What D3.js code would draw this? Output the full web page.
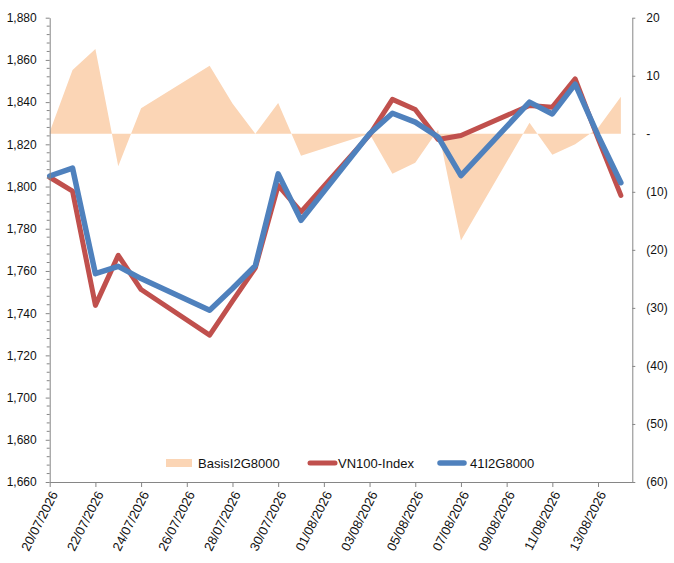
<!DOCTYPE html>
<html>
<head>
<meta charset="utf-8">
<script src="https://cdn.jsdelivr.net/npm/d3@7"></script>
<style>
  html, body { margin: 0; padding: 0; background: #fff; }
  svg { display: block; font-family: "Liberation Sans", Arial, sans-serif; }
</style>
</head>
<body>
<svg id="chart" width="674" height="563"></svg>
<script>
// ---- data ----
const dates = ["20/07/2026","21/07/2026","22/07/2026","23/07/2026","24/07/2026",
               "27/07/2026","28/07/2026","29/07/2026","30/07/2026","31/07/2026",
               "03/08/2026","04/08/2026","05/08/2026","06/08/2026","07/08/2026",
               "10/08/2026","11/08/2026","12/08/2026","13/08/2026","14/08/2026"];
const vn100 = [1804.4, 1797.8, 1743.7, 1767.4, 1751.2, 1729.6, 1745.7, 1761.5, 1800.5, 1788.0,
               1824.5, 1841.3, 1836.5, 1822.3, 1824.2, 1838.4, 1837.6, 1851.0, 1822.8, 1795.8];
const fut41 = [1805.0, 1808.7, 1758.7, 1762.2, 1756.4, 1741.4, 1751.7, 1762.5, 1806.0, 1784.0,
               1825.0, 1834.7, 1830.5, 1823.5, 1805.2, 1840.0, 1834.4, 1848.5, 1824.2, 1801.8];
const basis = [0.3, 11.0, 14.6, -5.6, 4.4, 11.7, 5.2, 0.0, 5.3, -3.8,
               0.0, -6.9, -5.0, 0.7, -18.4, 1.9, -3.6, -1.8, 1.0, 6.4];
const xTickLabels = ["20/07/2026","22/07/2026","24/07/2026","26/07/2026","28/07/2026","30/07/2026",
                     "01/08/2026","03/08/2026","05/08/2026","07/08/2026","09/08/2026","11/08/2026","13/08/2026"];
const leftTicks = [1660,1680,1700,1720,1740,1760,1780,1800,1820,1840,1860,1880];
const rightTicks = [-60,-50,-40,-30,-20,-10,0,10,20];
const seriesNames = ["BasisI2G8000","VN100-Index","41I2G8000"];
const colors = {basis: "#FBD5B5", vn: "#C0504D", fut: "#4F81BD"};

// ---- layout ----
const parse = d3.timeParse("%d/%m/%Y");
const plotL = 49.7, plotR = 632.3, plotT = 17.7, plotB = 482;
const svg = d3.select("#chart");
const axisColor = "#868686";
const textColor = "#111";
const fontFam = "'Liberation Sans', Arial, sans-serif";

const x = d3.scaleTime()
  .domain([parse("20/07/2026"), d3.timeHour.offset(parse("14/08/2026"), 12)])
  .range([plotL, plotR]);
const yL = d3.scaleLinear().domain([1660, 1880]).range([plotB, plotT]);
const yR = d3.scaleLinear().domain([-60, 20]).range([plotB, plotT]);

const rows = dates.map((d, i) => ({date: parse(d), vn: vn100[i], fut: fut41[i], basis: basis[i]}));

// area (basis) on right axis
svg.append("path")
  .datum(rows)
  .attr("fill", colors.basis)
  .attr("d", d3.area().x(d => x(d.date)).y0(yR(0)).y1(d => yR(d.basis)));

// lines
const lineVN = d3.line().x(d => x(d.date)).y(d => yL(d.vn));
const lineF = d3.line().x(d => x(d.date)).y(d => yL(d.fut));
svg.append("path").datum(rows).attr("fill", "none").attr("stroke", colors.vn)
  .attr("stroke-width", 5).attr("stroke-linejoin", "round").attr("stroke-linecap", "round")
  .attr("d", lineVN);
svg.append("path").datum(rows).attr("fill", "none").attr("stroke", colors.fut)
  .attr("stroke-width", 5.5).attr("stroke-linejoin", "round").attr("stroke-linecap", "round")
  .attr("d", lineF);

// left axis
const gL = svg.append("g").attr("transform", `translate(${plotL},0)`);
const minorTicks = d3.range(1660, 1880.1, 4).filter(v => !leftTicks.includes(v));
gL.selectAll("line.minor").data(minorTicks).join("line").attr("class", "minor")
  .attr("x1", -3).attr("x2", 0).attr("y1", d => yL(d)).attr("y2", d => yL(d))
  .attr("stroke", axisColor).attr("stroke-width", 1);
gL.call(d3.axisLeft(yL).tickValues(leftTicks).tickFormat(d3.format(",")).tickSize(4).tickPadding(9).tickSizeOuter(0));
gL.select(".domain").attr("stroke", axisColor);
gL.selectAll(".tick line").attr("stroke", axisColor);
gL.selectAll(".tick text").attr("fill", textColor).style("font-size", "12px").style("font-family", fontFam);

// right axis
const fmtR = v => v === 0 ? "-" : (v < 0 ? `(${Math.abs(v)})` : `${v}`);
const gR = svg.append("g").attr("transform", `translate(${plotR},0)`);
gR.call(d3.axisRight(yR).tickValues(rightTicks).tickFormat(fmtR).tickSize(3).tickPadding(11).tickSizeOuter(0));
gR.select(".domain").attr("stroke", axisColor);
gR.selectAll(".tick line").attr("stroke", axisColor);
gR.selectAll(".tick text").attr("fill", textColor).style("font-size", "12px").style("font-family", fontFam);

// bottom axis
const gB = svg.append("g").attr("transform", `translate(0,${plotB})`);
gB.call(d3.axisBottom(x).tickValues(xTickLabels.map(parse)).tickFormat(d3.timeFormat("%d/%m/%Y"))
  .tickSize(5).tickSizeOuter(0));
gB.select(".domain").attr("stroke", axisColor);
gB.selectAll(".tick line").attr("stroke", axisColor);
gB.selectAll(".tick text")
  .attr("fill", textColor).style("font-size", "13px").style("font-family", fontFam)
  .attr("text-anchor", "end")
  .attr("x", 0).attr("y", 0).attr("dy", "0.35em")
  .attr("transform", "translate(4,10) rotate(-63)");

// legend
const lg = svg.append("g").style("font-size", "13px").style("font-family", fontFam).attr("fill", textColor);
const ly = 463;
lg.append("rect").attr("x", 166).attr("y", ly - 4).attr("width", 26).attr("height", 8).attr("fill", colors.basis);
lg.append("text").attr("x", 198).attr("y", ly).attr("dy", "0.35em").text(seriesNames[0]);
lg.append("line").attr("x1", 310).attr("x2", 335).attr("y1", ly).attr("y2", ly)
  .attr("stroke", colors.vn).attr("stroke-width", 5).attr("stroke-linecap", "round");
lg.append("text").attr("x", 338).attr("y", ly).attr("dy", "0.35em").text(seriesNames[1]);
lg.append("line").attr("x1", 440).attr("x2", 464).attr("y1", ly).attr("y2", ly)
  .attr("stroke", colors.fut).attr("stroke-width", 5.5).attr("stroke-linecap", "round");
lg.append("text").attr("x", 470).attr("y", ly).attr("dy", "0.35em").text(seriesNames[2]);
</script>
</body>
</html>
